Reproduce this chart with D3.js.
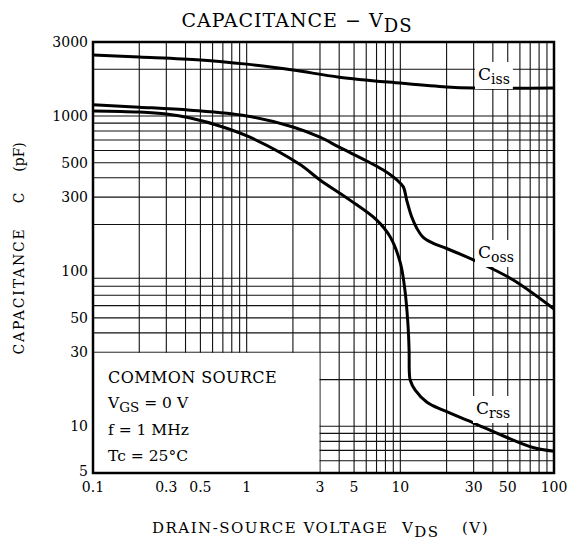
<!DOCTYPE html>
<html>
<head>
<title>Capacitance - VDS</title>
<script src="https://cdn.jsdelivr.net/npm/d3@7"></script>
<style>
  body { margin: 0; background: #fff; }
  svg { font-family: "DejaVu Serif", serif; }
</style>
</head>
<body>
<svg width="570" height="544"></svg>
<script>
// tick labels and grid values
var xTicks = [0.1, 0.3, 0.5, 1, 3, 5, 10, 30, 50, 100];
var yTicks = [3000, 1000, 500, 300, 100, 50, 30, 10, 5];
var xGrid = [0.2, 0.3, 0.4, 0.5, 0.6, 0.7, 0.8, 0.9, 1, 2, 3, 4, 5, 6, 7, 8, 9, 10,
             20, 30, 40, 50, 60, 70, 80, 90];
var yGrid = [6, 7, 8, 9, 10, 20, 30, 40, 50, 60, 70, 80, 90,
             200, 300, 400, 500, 600, 700, 800, 900, 1000, 2000];

// curves (VDS in V, C in pF)
var cissV = [0.1, 0.2, 0.5, 1, 2, 4, 10, 20, 30, 100];
var cissC = [2470, 2400, 2300, 2160, 1980, 1780, 1630, 1540, 1515, 1515];

var cossV = [0.1, 0.2, 0.43, 1, 2, 3, 4, 6, 7.7, 9.5, 10.45, 11, 11.85, 12.8, 14.1, 16.4, 20, 33, 54, 100];
var cossC = [1180, 1140, 1090, 1000, 850, 730, 630, 515, 450, 387, 350, 287, 224, 189, 165, 151, 140, 113, 88, 57];

var crssV = [0.1, 0.2, 0.3, 0.43, 0.7, 1.05, 2.2, 3, 4.7, 7, 8.6, 10, 10.7, 11.2, 11.4, 11.45, 11.6, 12.5, 14.9, 19, 30, 49, 73, 100];
var crssC = [1077, 1060, 1030, 970, 850, 730, 490, 387, 287, 214, 166, 113, 76, 46, 31, 22, 19.8, 17.1, 14.3, 12.7, 10.5, 8.5, 7.3, 6.9];

var svg = d3.select("svg");
var plotL = 93, plotR = 554, plotT = 42, plotB = 473;

var x = d3.scaleLog().domain([0.1, 100]).range([plotL, plotR]);
var y = d3.scaleLog().domain([5, 3000]).range([plotB, plotT]);

// grid
var grid = svg.append("g").attr("stroke", "#111").attr("stroke-width", 1.1);
grid.selectAll("line.v").data(xGrid).enter().append("line")
    .attr("x1", d => x(d)).attr("x2", d => x(d))
    .attr("y1", plotT).attr("y2", plotB);
grid.selectAll("line.h").data(yGrid).enter().append("line")
    .attr("x1", plotL).attr("x2", plotR)
    .attr("y1", d => y(d)).attr("y2", d => y(d));

// inset box with conditions (no grid inside)
svg.append("rect")
    .attr("x", plotL).attr("y", y(30) + 0.6)
    .attr("width", x(3) - plotL - 0.6).attr("height", plotB - y(30) - 0.6)
    .attr("fill", "#fff");

// curves
var line = d3.line()
    .x(d => x(d[0])).y(d => y(d[1]))
    .curve(d3.curveCatmullRom.alpha(0.5));

[[cissV, cissC], [cossV, cossC], [crssV, crssC]].forEach(function(s) {
  svg.append("path")
      .datum(d3.zip(s[0], s[1]))
      .attr("d", line)
      .attr("fill", "none")
      .attr("stroke", "#000")
      .attr("stroke-width", 3);
});

// curve labels with white background
function curveLabel(px, py, main, sub) {
  var g = svg.append("g");
  var bg = g.append("rect").attr("fill", "#fff");
  var t = g.append("text").attr("x", px).attr("y", py)
      .attr("font-size", 17).attr("fill", "#000");
  t.append("tspan").text(main);
  t.append("tspan").attr("dy", 4).attr("font-size", 14).text(sub);
  var b = t.node().getBBox();
  bg.attr("x", b.x - 3).attr("y", b.y - 2).attr("width", b.width + 6).attr("height", b.height + 4);
}
curveLabel(478, 80, "C", "iss");
curveLabel(478, 258, "C", "oss");
curveLabel(476, 414, "C", "rss");

// frame
svg.append("rect")
    .attr("x", plotL).attr("y", plotT)
    .attr("width", plotR - plotL).attr("height", plotB - plotT)
    .attr("fill", "none").attr("stroke", "#000").attr("stroke-width", 2.5);

// tick labels
svg.append("g").selectAll("text").data(xTicks).enter().append("text")
    .attr("x", d => x(d)).attr("y", 492)
    .attr("text-anchor", "middle").attr("font-size", 14)
    .text(d => d);
svg.append("g").selectAll("text").data(yTicks).enter().append("text")
    .attr("x", 88).attr("y", d => y(d)).attr("dy", d => d === 5 ? "0.2em" : "0.36em")
    .attr("text-anchor", "end").attr("font-size", 14)
    .text(d => d);

// title
var title = svg.append("text").attr("x", 297).attr("y", 27)
    .attr("text-anchor", "middle").attr("font-size", 19).attr("letter-spacing", 1);
title.append("tspan").text("CAPACITANCE  \u2212  V");
title.append("tspan").attr("dy", 5).attr("font-size", 18).text("DS");

// x axis title
var xt = svg.append("text").attr("x", 152).attr("y", 533)
    .attr("font-size", 15).attr("letter-spacing", 1.5);
xt.append("tspan").text("DRAIN-SOURCE VOLTAGE");
xt.append("tspan").attr("x", 402).text("V");
xt.append("tspan").attr("dy", 4).attr("font-size", 15).text("DS");
xt.append("tspan").attr("x", 462).attr("dy", -4).text("(V)");

// y axis title
var yt = svg.append("g").attr("transform", "translate(24,0) rotate(-90)");
yt.append("text").attr("x", -291).attr("text-anchor", "middle")
    .attr("font-size", 14).attr("letter-spacing", 1.8).text("CAPACITANCE");
yt.append("text").attr("x", -198).attr("text-anchor", "middle")
    .attr("font-size", 14).text("C");
yt.append("text").attr("x", -157).attr("text-anchor", "middle")
    .attr("font-size", 14).text("(pF)");

// conditions
var cond = svg.append("g").attr("font-size", 15.5);
cond.append("text").attr("x", 108).attr("y", 383).attr("font-size", 16)
    .attr("letter-spacing", 0.4).text("COMMON SOURCE");
var vg = cond.append("text").attr("x", 108).attr("y", 408);
vg.append("tspan").text("V");
vg.append("tspan").attr("dy", 4).attr("font-size", 13.5).text("GS");
vg.append("tspan").attr("dy", -4).text(" = 0 V");
cond.append("text").attr("x", 108).attr("y", 435).text("f = 1 MHz");
cond.append("text").attr("x", 108).attr("y", 461).text("Tc = 25\u00B0C");
</script>
</body>
</html>
